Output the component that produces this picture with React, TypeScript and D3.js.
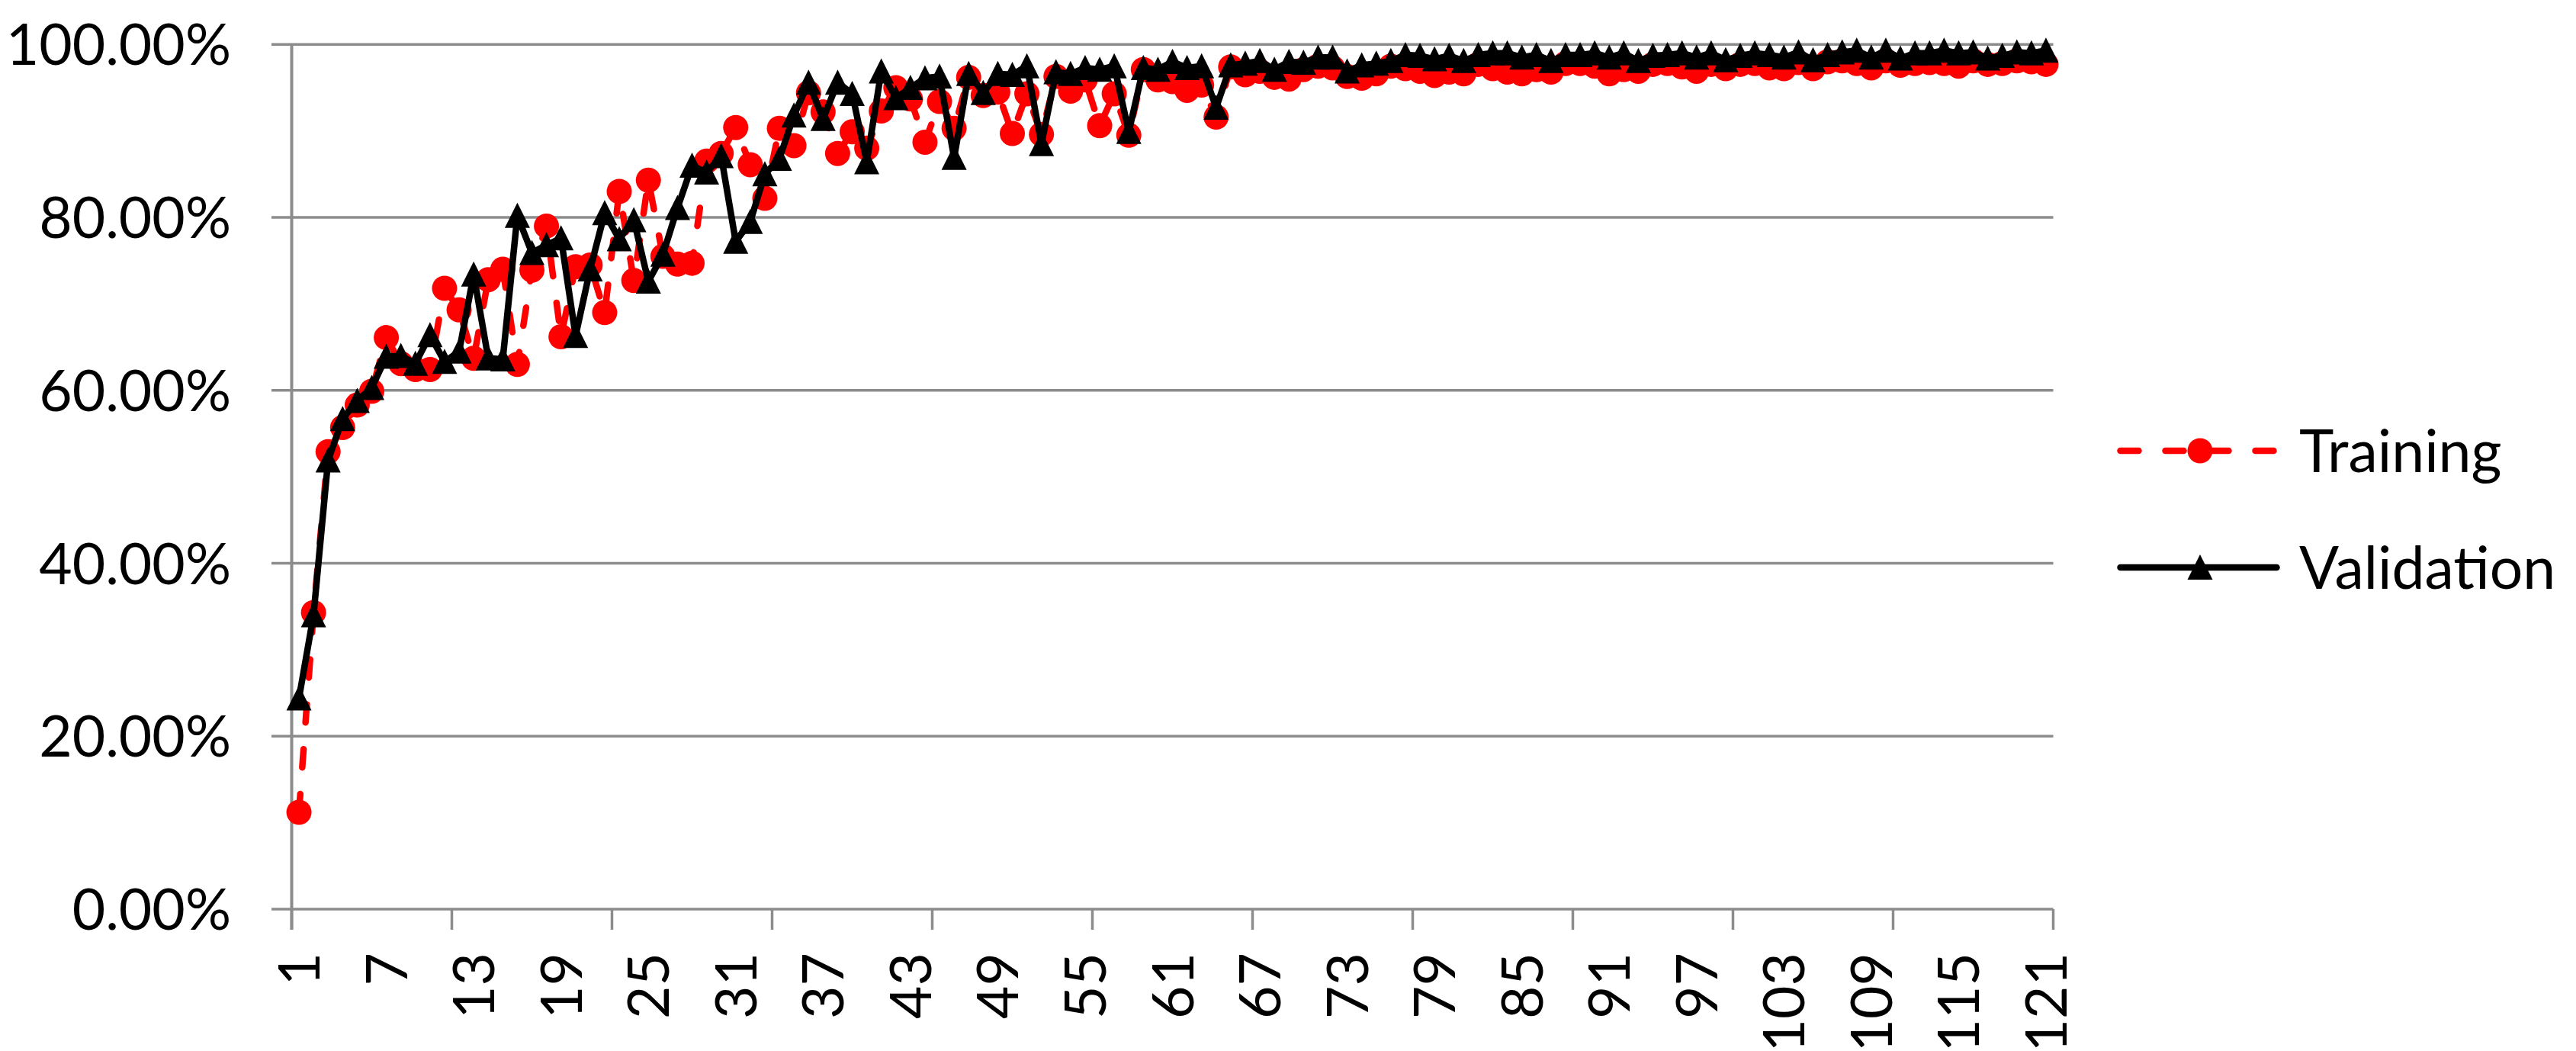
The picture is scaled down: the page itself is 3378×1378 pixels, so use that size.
import { FC } from 'react'
import * as d3 from 'd3'

// epochs 1..121, accuracy in %
const epochs: number[] = Array.from({ length: 121 }, (_, i) => i + 1)

const training: number[] = [
  11.2, 34.3, 52.9, 55.7, 58.3, 59.9, 66.1, 63.1, 62.4, 62.4,
  71.8, 69.3, 63.7, 72.8, 74.0, 63.0, 73.9, 79.0, 66.2, 74.3,
  74.5, 69.0, 83.0, 72.7, 84.3, 75.5, 74.6, 74.7, 86.5, 87.4,
  90.4, 86.1, 82.2, 90.3, 88.3, 94.4, 92.2, 87.4, 89.9, 88.0,
  92.3, 95.0, 93.7, 88.7, 93.4, 90.3, 96.2, 94.1, 94.5, 89.7,
  94.3, 89.6, 96.3, 94.6, 95.9, 90.6, 94.3, 89.5, 97.1, 95.9,
  95.7, 94.7, 95.3, 91.6, 97.4, 96.5, 96.9, 96.2, 96.0, 97.1,
  97.5, 97.3, 96.3, 96.1, 96.6, 97.5, 97.2, 96.9, 96.4, 96.8,
  96.6, 97.7, 97.2, 96.8, 96.6, 97.1, 96.8, 97.8, 97.8, 97.5,
  96.6, 97.1, 96.9, 97.7, 97.8, 97.4, 96.9, 97.7, 97.2, 97.7,
  97.8, 97.3, 97.2, 97.9, 97.2, 98.0, 98.1, 97.8, 97.3, 98.1,
  97.6, 97.8, 97.9, 97.8, 97.5, 98.1, 97.7, 97.8, 98.1, 98.0,
  97.7,
]

const validation: number[] = [
  24.4, 34.0, 51.9, 56.7, 58.8, 60.3, 63.9, 64.0, 63.1, 66.4,
  63.3, 64.5, 73.4, 63.7, 63.6, 80.2, 75.9, 76.8, 77.6, 66.3,
  74.0, 80.5, 77.5, 79.7, 72.6, 75.7, 81.1, 86.0, 85.2, 87.1,
  77.2, 79.5, 85.0, 86.8, 91.8, 95.6, 91.4, 95.6, 94.3, 86.4,
  96.9, 93.8, 95.0, 96.1, 96.3, 86.9, 96.6, 94.4, 96.6, 96.5,
  97.5, 88.5, 96.8, 96.6, 97.3, 97.1, 97.5, 89.9, 97.3, 97.1,
  98.0, 97.3, 97.5, 92.7, 97.6, 97.8, 98.1, 97.1, 98.0, 97.9,
  98.5, 98.5, 96.9, 97.6, 97.8, 98.1, 98.8, 98.7, 98.3, 98.7,
  98.1, 98.8, 99.0, 99.0, 98.5, 98.8, 98.1, 98.8, 98.8, 99.0,
  98.5, 99.0, 98.1, 98.7, 98.8, 99.0, 98.5, 99.0, 98.2, 98.7,
  99.0, 98.8, 98.5, 99.1, 98.2, 98.8, 99.1, 99.3, 98.5, 99.3,
  98.4, 99.0, 99.0, 99.3, 99.0, 99.1, 98.4, 98.7, 99.1, 99.0,
  99.3,
]

const yTicks: number[] = [0, 20, 40, 60, 80, 100]
const xLabels: number[] = [1, 7, 13, 19, 25, 31, 37, 43, 49, 55, 61, 67, 73, 79, 85, 91, 97, 103, 109, 115, 121]
const seriesNames: string[] = ['Training', 'Validation']

const W = 3378
const H = 1378
const left = 382.5
const right = 2692.5
const top = 58.3
const bottom = 1192
const gray = '#8c8c8c'
const font = "Lato, 'Open Sans', sans-serif"
const lw = 8.5
const dash = '24 35'

const tri = (cx: number, cy: number) =>
  `M${cx},${cy - 17}L${cx + 16.5},${cy + 16}L${cx - 16.5},${cy + 16}Z`

const App: FC = () => {
  const x = d3.scaleBand<number>().domain(epochs).range([left, right]).padding(0)
  const cx = (e: number) => (x(e) || 0) + x.bandwidth() / 2
  const y = d3.scaleLinear().domain([0, 100]).range([bottom, top])

  const line = d3.line<number>()
    .x((_, i) => cx(epochs[i]))
    .y(d => y(d))

  const tickBounds = d3.range(0, 122, 11)

  return (
    <svg width={W} height={H} style={{ position: 'absolute', left: 0, top: 0, background: '#fff' }}>
      {/* grid */}
      {yTicks.map(t => (
        <line key={t} x1={356} x2={right} y1={y(t)} y2={y(t)} stroke={gray} strokeWidth={3.5} />
      ))}
      <line x1={left} x2={left} y1={top} y2={bottom + 27} stroke={gray} strokeWidth={4} />
      {tickBounds.map(k => (
        <line key={k} x1={left + k * x.bandwidth()} x2={left + k * x.bandwidth()} y1={bottom} y2={bottom + 27} stroke={gray} strokeWidth={3.5} />
      ))}

      {/* y labels */}
      {yTicks.map(t => (
        <text key={t} x={303} y={y(t)} dy="0.36em" textAnchor="end" fontFamily={font} fontSize={75} fill="#000">
          {t.toFixed(2)}%
        </text>
      ))}

      {/* x labels */}
      {xLabels.map(e => (
        <text key={e} transform={`translate(${cx(e)},1249) rotate(-90)`} dy="0.36em" textAnchor="end" fontFamily={font} fontSize={75} fill="#000">
          {e}
        </text>
      ))}

      {/* training */}
      <path d={line(training) || ''} fill="none" stroke="#ff0000" strokeWidth={lw} strokeDasharray={dash} strokeLinecap="round" strokeLinejoin="round" />
      {training.map((v, i) => (
        <circle key={i} cx={cx(epochs[i])} cy={y(v)} r={16.5} fill="#ff0000" />
      ))}

      {/* validation */}
      <path d={line(validation) || ''} fill="none" stroke="#000" strokeWidth={lw} strokeLinecap="round" strokeLinejoin="round" />
      {validation.map((v, i) => (
        <path key={i} d={tri(cx(epochs[i]), y(v))} fill="#000" />
      ))}

      {/* legend */}
      <line x1={2780.5} x2={2984.5} y1={591} y2={591} stroke="#ff0000" strokeWidth={lw} strokeDasharray={dash} strokeLinecap="round" />
      <circle cx={2885} cy={591} r={16.5} fill="#ff0000" />
      <text x={3015} y={591} dy="0.36em" fontFamily={font} fontSize={77} fill="#000">{seriesNames[0]}</text>
      <line x1={2780.5} x2={2985.5} y1={744} y2={744} stroke="#000" strokeWidth={lw} strokeLinecap="round" />
      <path d={tri(2885, 744)} fill="#000" />
      <text x={3015} y={744} dy="0.36em" fontFamily={font} fontSize={77} fill="#000">{seriesNames[1]}</text>
    </svg>
  )
}

export default App
